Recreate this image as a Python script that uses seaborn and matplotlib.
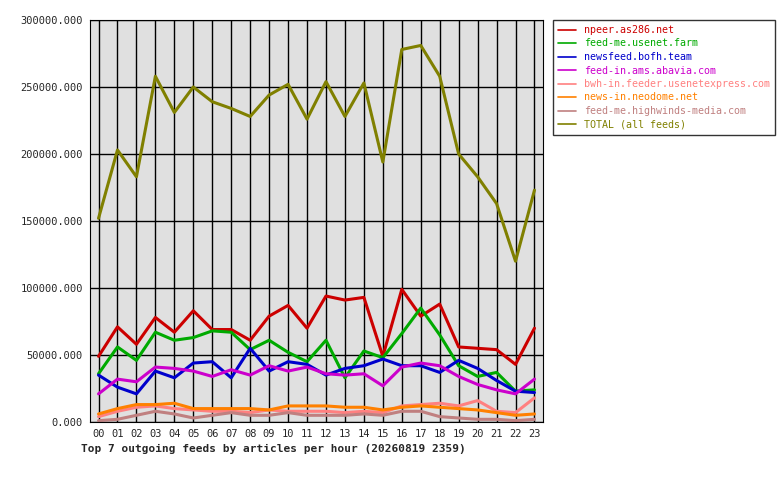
import matplotlib
matplotlib.use("Agg")
import matplotlib.pyplot as plt
import seaborn as sns
import pandas as pd
from matplotlib.ticker import FuncFormatter

hours = [f"{h:02d}" for h in range(24)]
npeer = [49000,71000,58000,78000,67000,83000,69000,69000,61000,79000,87000,70000,94000,91000,93000,49000,99000,79000,88000,56000,55000,54000,43000,70000]
usenet_farm = [36000,56000,46000,67000,61000,63000,68000,67000,54000,61000,52000,45000,61000,33000,53000,48000,66000,85000,65000,42000,34000,37000,23000,24000]
bofh = [35000,26000,21000,38000,33000,44000,45000,33000,55000,38000,45000,43000,35000,40000,42000,47000,42000,42000,37000,46000,40000,31000,23000,22000]
abavia = [21000,32000,30000,41000,40000,38000,34000,39000,35000,42000,38000,41000,36000,35000,36000,27000,41000,44000,42000,34000,28000,24000,21000,32000]
bwh = [4000,8000,11000,12000,10000,9000,8000,8000,7000,9000,8000,8000,8000,7000,8000,7000,12000,13000,14000,12000,16000,8000,7000,18000]
neodome = [6000,10000,13000,13000,14000,10000,10000,10000,10000,9000,12000,12000,12000,11000,11000,9000,11000,12000,11000,10000,9000,7000,5000,6000]
highwinds = [1000,2000,5000,8000,6000,3000,5000,7000,5000,5000,7000,5000,5000,5000,6000,5000,8000,8000,4000,3000,2000,2000,1000,2000]
total = [152000,203000,183000,258000,231000,250000,239000,234000,228000,244000,252000,226000,254000,228000,253000,194000,278000,281000,258000,200000,183000,163000,120000,173000]

names = ["npeer.as286.net","feed-me.usenet.farm","newsfeed.bofh.team","feed-in.ams.abavia.com",
         "bwh-in.feeder.usenetexpress.com","news-in.neodome.net","feed-me.highwinds-media.com","TOTAL (all feeds)"]
series = [npeer, usenet_farm, bofh, abavia, bwh, neodome, highwinds, total]
colors = ["#cc0000","#00aa00","#0000cc","#cc00cc","#ff8080","#ff8000","#c08080","#808000"]

rows = []
for n, s in zip(names, series):
    for i, v in enumerate(s):
        rows.append({"hour": i, "feed": n, "articles": v})
df = pd.DataFrame(rows)

sns.set_style("white")
plt.rcParams['font.family'] = ['DejaVu Sans Mono']
fig = plt.figure(figsize=(7.8, 4.8), dpi=100)
ax = fig.add_axes([90/780, 58/480, 453/780, 402/480])
ax.set_facecolor("#e0e0e0")
sns.lineplot(data=df, x="hour", y="articles", hue="feed", hue_order=names,
             palette=colors, linewidth=2.2, ax=ax, legend=True)
ax.set_xlim(-0.45, 23.45)
ax.set_ylim(0, 300000)
ax.set_xticks(range(24))
ax.set_xticklabels(hours, fontsize=7.5)
ax.set_yticks(range(0, 300001, 50000))
ax.yaxis.set_major_formatter(FuncFormatter(lambda v, p: f"{v:.3f}"))
ax.tick_params(axis='y', labelsize=7.5)
ax.tick_params(axis='both', length=3, width=1, pad=2)
ax.grid(True, color="black", linewidth=1)
for sp in ax.spines.values():
    sp.set_color("black")
ax.set_xlabel("Top 7 outgoing feeds by articles per hour (20260819 2359)", fontsize=8,
              fontweight="bold", loc="left")
ax.xaxis.set_label_coords(-0.02, -0.055)
ax.set_ylabel("")
leg = ax.legend(loc="upper left", bbox_to_anchor=((553-90)/453, 1.0), fontsize=7.2,
                frameon=True, fancybox=False, edgecolor="black", handlelength=1.8,
                borderaxespad=0, labelspacing=0.35, borderpad=0.5)
leg.get_frame().set_linewidth(1)
for t, c in zip(leg.get_texts(), colors):
    t.set_color(c)
for l in leg.get_lines():
    l.set_linewidth(1.2)
fig.savefig("out.png", dpi=100)
